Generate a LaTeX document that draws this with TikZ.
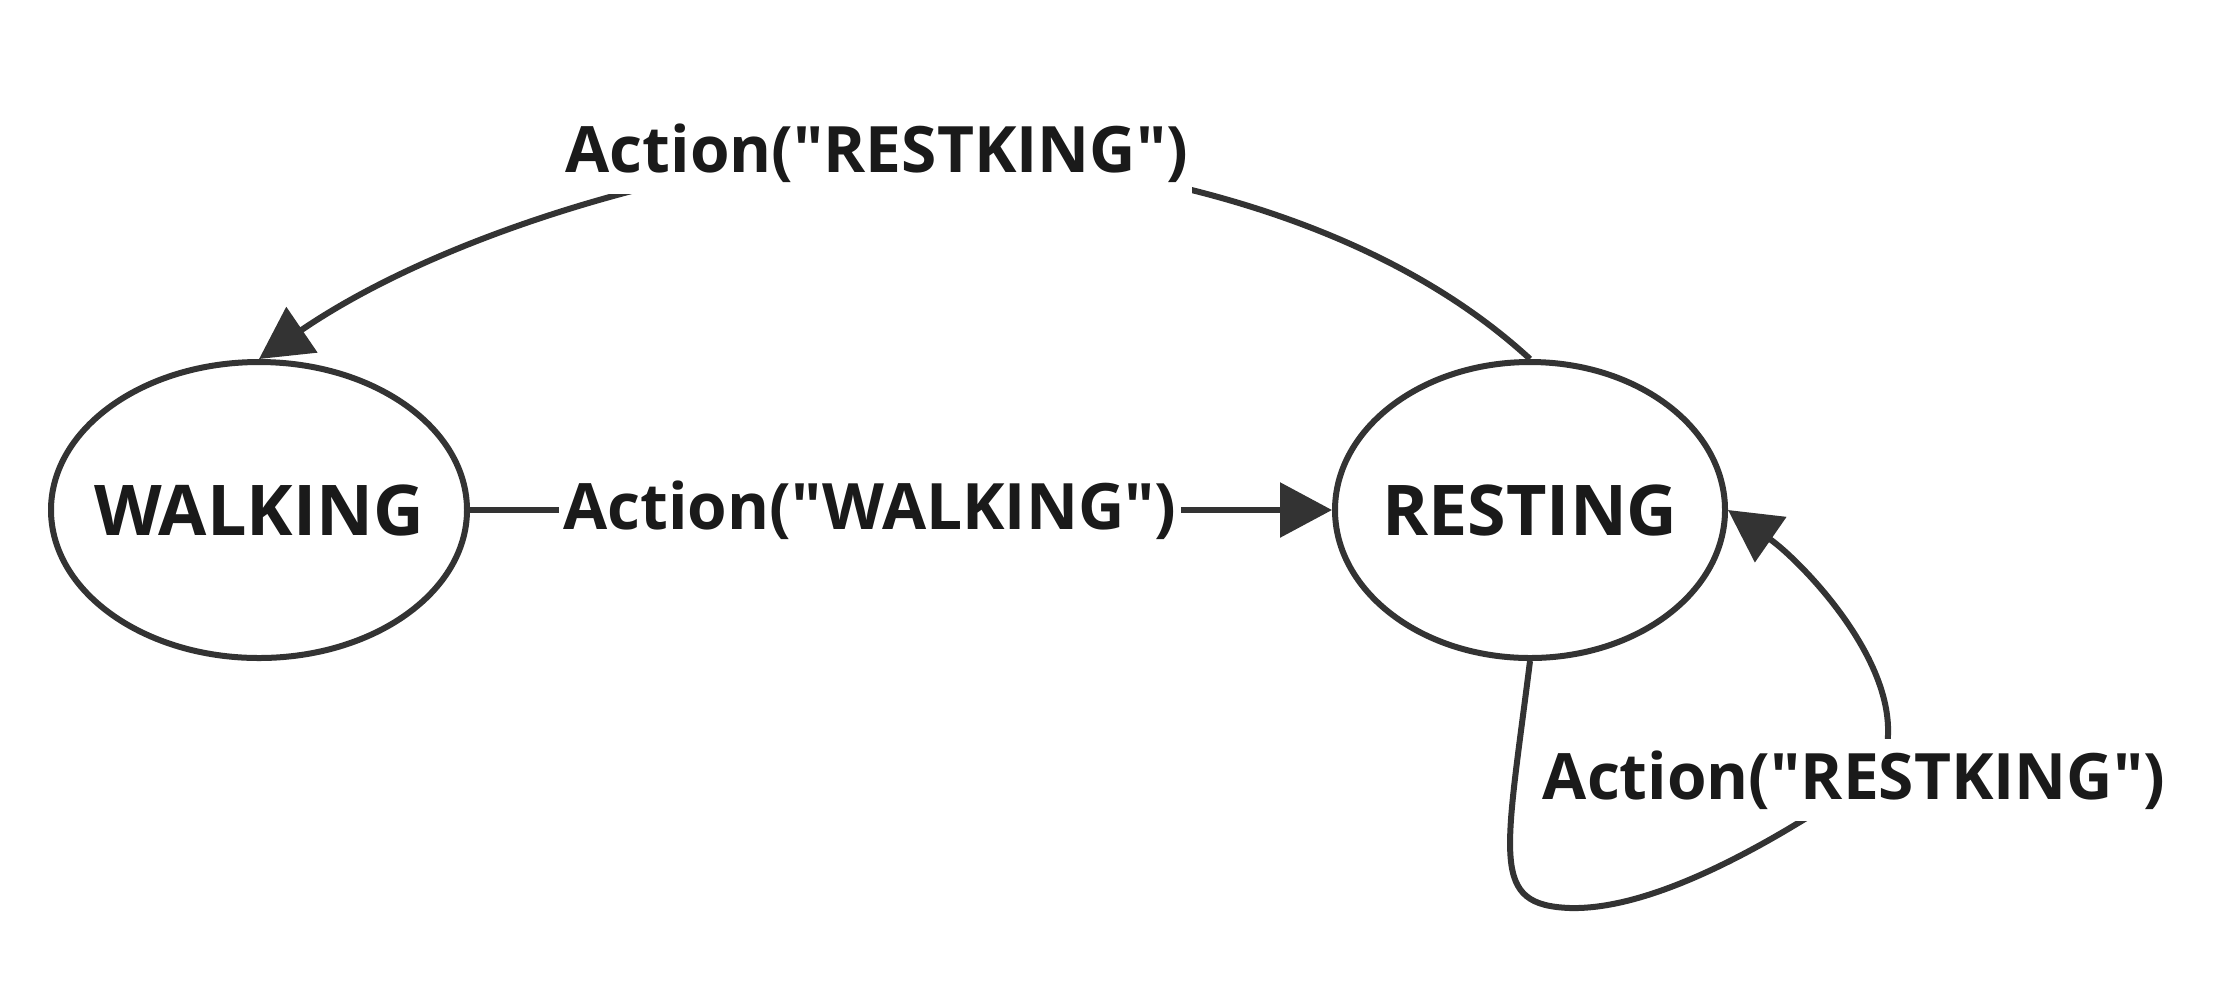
\documentclass[tikz,border=0pt]{standalone}
\usepackage{fontspec}
\setmainfont{Open Sans}[Ligatures=TeXOff]
\usetikzlibrary{arrows.meta,shapes.geometric}
\definecolor{linec}{HTML}{333333}
\definecolor{textc}{HTML}{1A1A1A}
\tikzset{
  state/.style={ellipse, draw=linec, line width=3pt, fill=white, minimum height=148pt, inner sep=0pt},
  statetext/.style={font=\fontsize{35}{40}\selectfont\bfseries, text=textc},
  lbl/.style={fill=white, inner xsep=2pt, inner ysep=6pt, font=\fontsize{32}{36}\selectfont\bfseries, text=textc},
  conn/.style={draw=linec, line width=3pt},
  tip/.style={-{Triangle[length=26pt,width=27pt]}}
}
\begin{document}
\begin{tikzpicture}[x=0.5pt,y=-0.5pt]
\useasboundingbox (0,0) rectangle (2236,993);
\node[state, minimum width=208pt, label={[statetext]center:WALKING}] (W) at (259,510) {};
\node[state, minimum width=195pt, label={[statetext]center:RESTING}] (R) at (1530,510) {};
% WALKING -> RESTING
\node[lbl] (l1) at (870,510) {Action("WALKING")};
\draw[conn] (W.east) -- (l1.west);
\draw[conn,tip] (l1.east) -- (R.west);
% RESTING -> WALKING (top)
\coordinate (c2) at (877,153);
\draw[conn] (R.north) .. controls (1330,175) and (1000,150) .. (c2);
\draw[conn,tip] (c2) .. controls (760,150) and (470,215) .. (W.north);
\node[lbl] (l2) at (877,153) {Action("RESTKING")};
% self loop on RESTING
\coordinate (b3) at (1570,908);
\coordinate (m3) at (1854,780);
\coordinate (e3) at (1850,790);
\coordinate (s3) at (1880,770);
\draw[conn] (R.south) .. controls (1505,860) and (1490,905) .. (b3)
   .. controls (1650,910) and (1760,850) .. (e3);
\draw[conn,tip] (s3) .. controls (1920,680) and (1800,560) .. (R.east);
\node[lbl] (l3) at (m3) {Action("RESTKING")};
\end{tikzpicture}
\end{document}
